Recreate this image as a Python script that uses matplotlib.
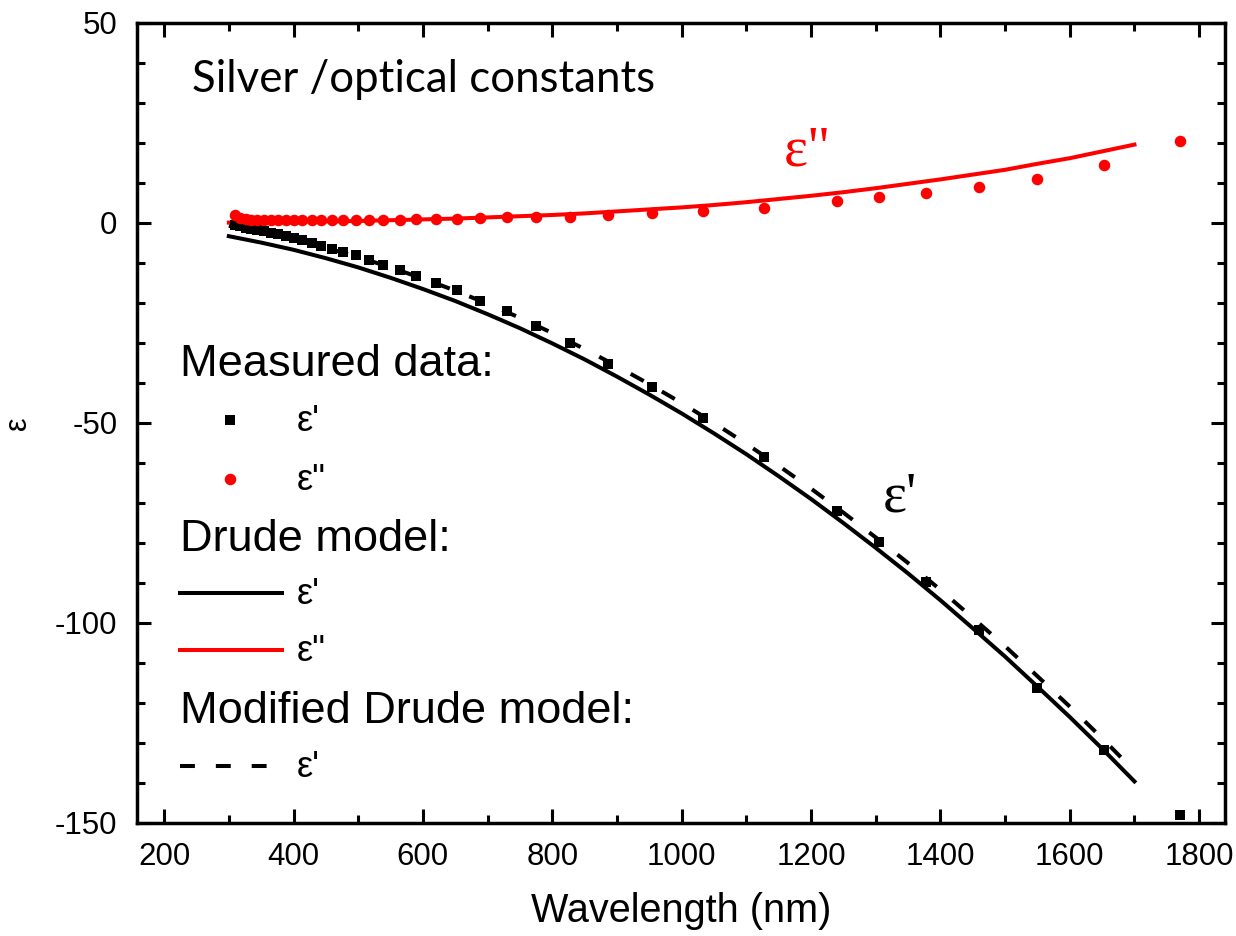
import matplotlib
matplotlib.use('Agg')
import matplotlib.pyplot as plt
from matplotlib.ticker import MultipleLocator

plt.rcParams['axes.unicode_minus'] = False
plt.rcParams['font.family'] = ['Liberation Sans', 'DejaVu Sans']

# measured optical constants of silver
wl_meas = [310, 318, 326, 335, 344, 354, 365, 376, 388, 400, 413, 428, 443,
           459, 477, 496, 517, 539, 564, 590, 620, 653, 689, 730, 775, 827,
           886, 954, 1033, 1127, 1240, 1305, 1378, 1459, 1550, 1653, 1770]
eps1_meas = [-0.4, -0.8, -1.2, -1.5, -1.7, -2.0, -2.4, -2.8, -3.3, -3.7, -4.3,
             -5.0, -5.8, -6.5, -7.2, -8.1, -9.3, -10.5, -11.8, -13.3, -14.9,
             -16.8, -19.4, -22.0, -25.7, -30.0, -35.2, -41.0, -48.8, -58.5,
             -72.0, -79.8, -89.8, -101.8, -116.3, -131.8, -148.0]
eps2_meas = [1.9, 1.2, 0.9, 0.8, 0.7, 0.7, 0.7, 0.7, 0.7, 0.7, 0.7, 0.7, 0.7,
             0.7, 0.7, 0.8, 0.8, 0.8, 0.8, 0.9, 1.0, 1.1, 1.2, 1.4, 1.5, 1.6,
             1.9, 2.5, 3.1, 3.8, 5.6, 6.5, 7.5, 9.0, 11.0, 14.4, 20.5]

# model curves
wl_model = [300, 350, 400, 450, 500, 550, 600, 650, 700, 750, 800, 850, 900,
            950, 1000, 1050, 1100, 1150, 1200, 1250, 1300, 1350, 1400, 1450,
            1500, 1550, 1600, 1650, 1700]
eps1_drude = [-3.3, -4.9, -6.7, -8.8, -11.1, -13.7, -16.5, -19.5, -22.8, -26.3,
              -30.1, -34.1, -38.4, -42.9, -47.6, -52.6, -57.8, -63.3, -69.0,
              -75.0, -81.2, -87.6, -94.3, -101.3, -108.4, -115.9, -123.5,
              -131.4, -139.6]
eps2_drude = [0.1, 0.2, 0.3, 0.4, 0.5, 0.7, 0.9, 1.1, 1.4, 1.7, 2.0, 2.4, 2.9,
              3.4, 3.9, 4.5, 5.2, 6.0, 6.8, 7.7, 8.7, 9.8, 10.9, 12.1, 13.3,
              14.8, 16.2, 17.9, 19.6]
eps1_mod = [-0.7, -2.3, -4.1, -6.2, -8.5, -11.1, -13.9, -16.9, -20.2, -23.7,
            -27.5, -31.5, -35.8, -40.3, -45.0, -50.0, -55.2, -60.7, -66.4,
            -72.4, -78.6, -85.0, -91.7, -98.7, -105.8, -113.3, -120.9, -128.8,
            -137.0]

RED = '#ff0000'
lw = 2.9
dash = (3.7, 5.2)

fig = plt.figure(figsize=(12.36, 9.36), dpi=100)
ax = fig.add_axes([137 / 1236, 113 / 936, 1088 / 1236, 800 / 936])

ax.plot(wl_model, eps1_drude, color='black', lw=lw, zorder=2)
ax.plot(wl_model, eps1_mod, color='black', lw=lw, dashes=dash, zorder=2)
ax.plot(wl_model, eps2_drude, color=RED, lw=lw, zorder=2)
ax.plot(wl_meas, eps1_meas, 's', color='black', ms=7.6, mew=0, zorder=3)
ax.plot(wl_meas, eps2_meas, 'o', color=RED, ms=8.3, mew=0, zorder=3)

ax.set_xlim(158, 1840)
ax.set_ylim(-150, 50)
ax.xaxis.set_major_locator(MultipleLocator(200))
ax.xaxis.set_minor_locator(MultipleLocator(100))
ax.yaxis.set_major_locator(MultipleLocator(50))
ax.yaxis.set_minor_locator(MultipleLocator(10))
ax.tick_params(which='both', direction='in', top=True, right=True, width=2.2,
               labelsize=22.5)
ax.tick_params(which='major', length=10)
ax.tick_params(which='minor', length=5.5)
ax.tick_params(axis='x', pad=14)
ax.tick_params(axis='y', pad=14)
for s in ax.spines.values():
    s.set_linewidth(2.5)

ax.set_xlabel('Wavelength (nm)', fontsize=28.5, labelpad=14)
ax.set_ylabel('ε', fontsize=22, labelpad=16)

ax.text(0.0506, 0.929, 'Silver /optical constants', transform=ax.transAxes,
        fontsize=31.5, family=['Lato', 'DejaVu Sans'], va='center', ha='left')
ax.text(0.594, 0.8225, 'ε"', transform=ax.transAxes, color=RED, fontsize=41,
        family=['Liberation Serif', 'DejaVu Serif'], va='baseline')
ax.text(0.6857, 0.389, "ε'", transform=ax.transAxes, color='black',
        fontsize=41, family=['Liberation Serif', 'DejaVu Serif'],
        va='baseline')

# hand-made legend block
tr = ax.transAxes
hx = 0.0395
lx = 0.147
hs = 32.5
ls = 26
ax.text(hx, 0.5725, 'Measured data:', transform=tr, fontsize=hs, va='center')
ax.plot([0.0855], [0.504], 's', color='black', ms=7.6, mew=0, transform=tr)
ax.text(lx, 0.502, "ε'", transform=tr, fontsize=ls, va='center')
ax.plot([0.0855], [0.430], 'o', color=RED, ms=8.3, mew=0, transform=tr)
ax.text(lx, 0.428, 'ε"', transform=tr, fontsize=ls, va='center')
ax.text(hx, 0.354, 'Drude model:', transform=tr, fontsize=hs, va='center')
ax.plot([0.0395, 0.133], [0.2875, 0.2875], color='black', lw=lw, transform=tr)
ax.text(lx, 0.2855, "ε'", transform=tr, fontsize=ls, va='center')
ax.plot([0.0395, 0.133], [0.216, 0.216], color=RED, lw=lw, transform=tr)
ax.text(lx, 0.214, 'ε"', transform=tr, fontsize=ls, va='center')
ax.text(hx, 0.139, 'Modified Drude model:', transform=tr, fontsize=hs,
        va='center')
ax.plot([0.0395, 0.133], [0.071, 0.071], color='black', lw=lw, dashes=dash,
        transform=tr)
ax.text(lx, 0.069, "ε'", transform=tr, fontsize=ls, va='center')

fig.savefig('out.png', dpi=100)
